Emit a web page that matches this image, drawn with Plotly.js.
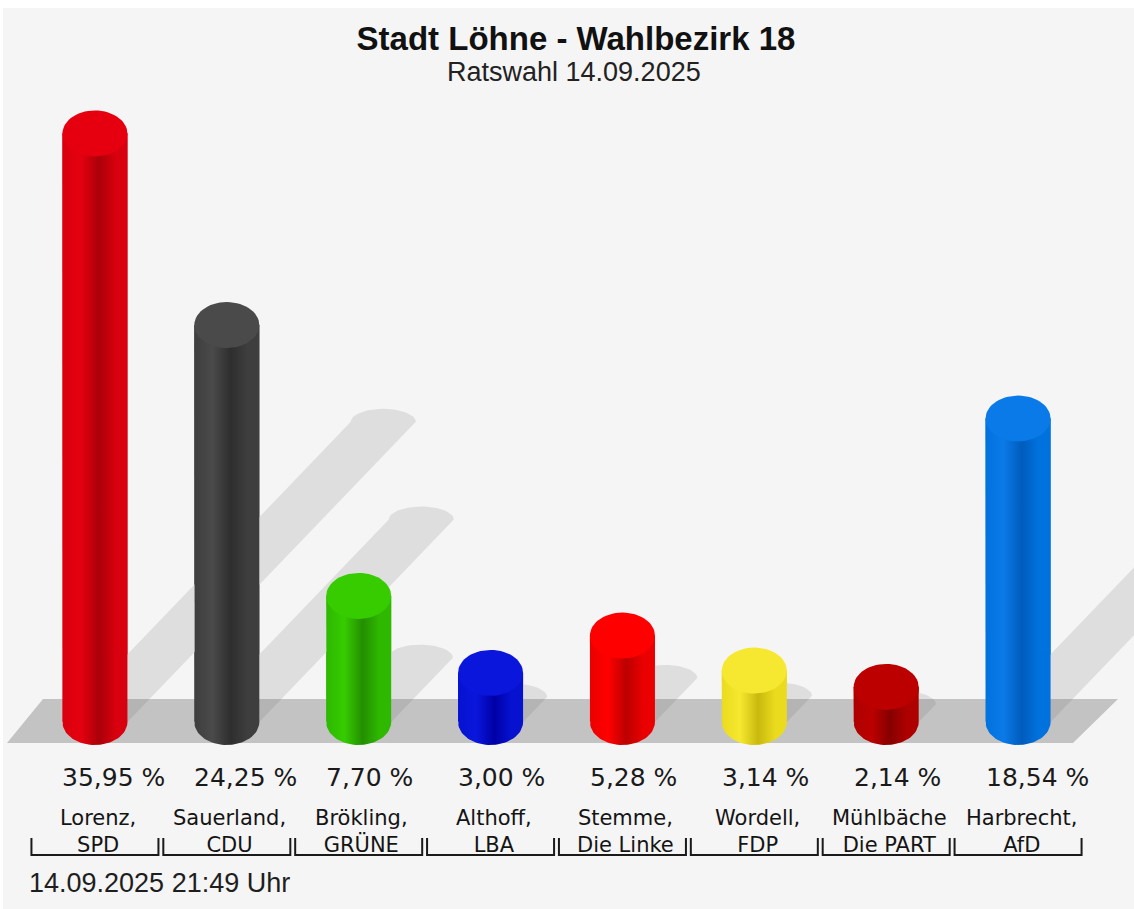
<!DOCTYPE html>
<html>
<head>
<meta charset="utf-8">
<script src="https://cdn.plot.ly/plotly-3.0.1.min.js"></script>
<style>html,body{margin:0;padding:0;background:#fff;}#chart{width:1134px;height:909px;}</style>
</head>
<body>
<div id="chart"></div>
<script>
// ---------------- data ----------------
const candidates = ['Lorenz,', 'Sauerland,', 'Brökling,', 'Althoff,', 'Stemme,', 'Wordell,', 'Mühlbäche', 'Harbrecht,'];
const parties = ['SPD', 'CDU', 'GRÜNE', 'LBA', 'Die Linke', 'FDP', 'Die PART', 'AfD'];
const shares = [35.95, 24.25, 7.70, 3.00, 5.28, 3.14, 2.14, 18.54];
const mainColors = ['#d8000e', '#3e3e3e', '#2eb800', '#0612d0', '#ea0000', '#eadb1e', '#ae0000', '#0072de'];
const darkColors = ['#aa0009', '#2e2e2e', '#238f00', '#0000a6', '#bc0000', '#c8b90e', '#860000', '#005cbc'];
const capColors = ['#e6000f', '#4a4a4a', '#36cc00', '#0a16dc', '#ff0000', '#f6e830', '#bc0000', '#0a7ae8'];
const titleText = 'Stadt Löhne - Wahlbezirk 18';
const subtitleText = 'Ratswahl 14.09.2025';
const footerText = '14.09.2025 21:49 Uhr';

// ---------------- geometry helpers ----------------
const W = 1134, H = 909;
const PX = 131.875;           // pixels per category
const PY = 16.37;             // pixels per percent
const X0 = 94.94;             // pixel centre of first category
const BASE = 722;             // pixel of 0 %
const xr = [-X0 / PX, (W - X0) / PX];
const yr = [-(H - BASE) / PY, BASE / PY];
const rx = 32.5 / PX, ry = 23 / PY, rys = 13 / PY;
const floorTop = (BASE - 699) / PY;
const px2p = p => p / W, py2p = p => 1 - p / H;

function arc(cx, cy, ax, ay, t0, t1, n) {
  const xs = [], ys = [];
  for (let i = 0; i <= n; i++) {
    const t = t0 + (t1 - t0) * i / n;
    xs.push(cx + ax * Math.cos(t)); ys.push(cy + ay * Math.sin(t));
  }
  return [xs, ys];
}
function clip(xs, ys, c, keepAbove) {
  const inside = y => keepAbove ? y >= c : y <= c;
  const ox = [], oy = [];
  const n = xs.length;
  for (let i = 0; i < n; i++) {
    const ax = xs[i], ay = ys[i], bx = xs[(i + 1) % n], by = ys[(i + 1) % n];
    const ai = inside(ay), bi = inside(by);
    if (ai) { ox.push(ax); oy.push(ay); }
    if (ai !== bi) {
      const t = (c - ay) / (by - ay);
      ox.push(ax + t * (bx - ax)); oy.push(c);
    }
  }
  if (ox.length) { ox.push(ox[0]); oy.push(oy[0]); }
  return [ox, oy];
}

const traces = [];
// base bars
traces.push({
  type: 'bar', x: shares.map((_, i) => i), y: shares, base: 0, width: 2 * rx,
  marker: { color: mainColors, line: { width: 0 } }, hoverinfo: 'skip', showlegend: false
});

// shadows
shares.forEach((v, i) => {
  const sdx = 0.49 * v * PY / PX, sdy = 0.51 * v;
  let xs = [i - rx, i - rx + sdx], ys = [0, sdy];
  const a = arc(i + sdx, sdy, rx, rys, Math.PI, 0, 30);
  xs = xs.concat(a[0]); ys = ys.concat(a[1]);
  xs.push(i + rx); ys.push(0);
  const up = clip(xs, ys, floorTop, true);
  const dn = clip(xs, ys, floorTop, false);
  if (up[0].length) traces.push({ type: 'scatter', mode: 'lines', x: up[0], y: up[1], fill: 'toself',
    fillcolor: '#dedede', line: { width: 0, color: 'rgba(0,0,0,0)' }, hoverinfo: 'skip', showlegend: false });
  if (dn[0].length) traces.push({ type: 'scatter', mode: 'lines', x: dn[0], y: dn[1], fill: 'toself',
    fillcolor: '#b4b4b4', line: { width: 0, color: 'rgba(0,0,0,0)' }, hoverinfo: 'skip', showlegend: false });
});

// cylinders
shares.forEach((v, i) => {
  let xs = [i - rx, i - rx], ys = [v, 0];
  const b = arc(i, 0, rx, ry, Math.PI, 2 * Math.PI, 40);
  xs = xs.concat(b[0]); ys = ys.concat(b[1]);
  xs.push(i + rx, i - rx); ys.push(v, v);
  traces.push({
    type: 'scatter', mode: 'lines', x: xs, y: ys, fill: 'toself',
    fillcolor: mainColors[i],
    fillgradient: { type: 'horizontal', colorscale: [[0, mainColors[i]], [0.28, capColors[i]], [0.56, darkColors[i]], [0.82, mainColors[i]], [1, mainColors[i]]] },
    line: { width: 0, color: 'rgba(0,0,0,0)' }, hoverinfo: 'skip', showlegend: false
  });
  const c = arc(i, v, rx, ry, 0, 2 * Math.PI, 60);
  traces.push({
    type: 'scatter', mode: 'lines', x: c[0], y: c[1], fill: 'toself', fillcolor: capColors[i],
    line: { width: 0, color: 'rgba(0,0,0,0)' }, hoverinfo: 'skip', showlegend: false
  });
});

// shapes: background, floor, brackets
const shapes = [];
shapes.push({ type: 'rect', xref: 'paper', yref: 'paper', x0: px2p(3), x1: 1, y0: 0, y1: py2p(8),
  fillcolor: '#f5f5f5', line: { width: 0 }, layer: 'below' });
shapes.push({ type: 'path', xref: 'paper', yref: 'paper', layer: 'below', fillcolor: '#c3c3c3', line: { width: 0 },
  path: `M ${px2p(7)},${py2p(743)} L ${px2p(43)},${py2p(699)} L ${px2p(1118)},${py2p(699)} L ${px2p(1073)},${py2p(743)} Z` });
const bw = 63.5 / PX;
parties.forEach((_, i) => {
  shapes.push({ type: 'path', xref: 'x', yref: 'paper', line: { color: '#1a1a1a', width: 2 },
    path: `M ${i - bw},${py2p(838)} L ${i - bw},${py2p(855)} L ${i + bw},${py2p(855)} L ${i + bw},${py2p(838)}` });
});

// annotations
const annotations = [];
shares.forEach((v, i) => {
  annotations.push({ xref: 'x', yref: 'paper', x: i - rx - 2 / PX, y: py2p(777), xanchor: 'left', yanchor: 'middle',
    text: v.toFixed(2).replace('.', ',') + ' %', showarrow: false,
    font: { family: 'DejaVu Sans', size: 25, color: '#1a1a1a' } });
  annotations.push({ xref: 'x', yref: 'paper', x: i + 3 / PX, y: py2p(831), xanchor: 'center', yanchor: 'middle',
    text: candidates[i] + '<br>' + parties[i], showarrow: false,
    font: { family: 'DejaVu Sans', size: 21, color: '#141414' } });
});
annotations.push({ xref: 'paper', yref: 'paper', x: px2p(574), y: py2p(72), xanchor: 'center', yanchor: 'middle',
  text: subtitleText, showarrow: false, font: { family: 'Liberation Sans, Arial, sans-serif', size: 27, color: '#222' } });
annotations.push({ xref: 'paper', yref: 'paper', x: px2p(27), y: py2p(883), xanchor: 'left', yanchor: 'middle',
  text: footerText, showarrow: false, font: { family: 'Liberation Sans, Arial, sans-serif', size: 27, color: '#1e1e1e' } });

const layout = {
  width: W, height: H,
  margin: { l: 0, r: 0, t: 0, b: 0, pad: 0 },
  paper_bgcolor: '#ffffff', plot_bgcolor: 'rgba(0,0,0,0)',
  title: { text: '<b>' + titleText + '</b>', xref: 'paper', yref: 'paper', x: px2p(576), y: py2p(38),
    xanchor: 'center', yanchor: 'middle', font: { family: 'Liberation Sans, Arial, sans-serif', size: 33, color: '#111' } },
  xaxis: { range: xr, visible: false, fixedrange: true },
  yaxis: { range: yr, visible: false, fixedrange: true },
  barmode: 'overlay', showlegend: false, hovermode: false,
  shapes: shapes, annotations: annotations
};
Plotly.newPlot('chart', traces, layout, { displayModeBar: false, staticPlot: true });
</script>
</body>
</html>
